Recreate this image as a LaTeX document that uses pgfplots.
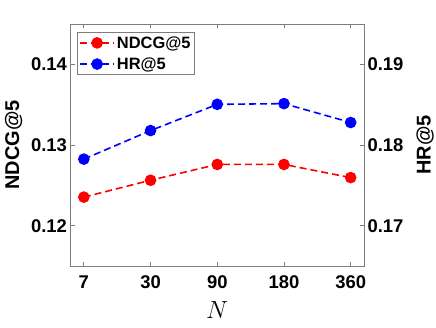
\documentclass[border=0pt]{standalone}
\usepackage{pgfplots}
\pgfplotsset{compat=1.18}
\usepackage{fontspec}
\setmainfont{Liberation Sans}
\definecolor{boxgray}{RGB}{125,125,125}
\begin{document}
\begin{tikzpicture}[x=1bp,y=1bp]
\path[use as bounding box] (0,0) rectangle (436,327);
\pgfplotsset{
 common/.style={
  at={(70.5bp,61bp)}, anchor=south west, scale only axis,
  width=293.5bp, height=242bp,
  xmin=-0.2, xmax=4.2,
  tick align=inside, major tick length=4bp,
  axis line style={draw=boxgray, line width=0.7bp},
  tick style={draw=boxgray, line width=0.7bp},
  ticklabel style={font=\fontsize{18.5}{20}\selectfont\bfseries, text=black},
  label style={font=\fontsize{20}{22}\selectfont\bfseries},
  /pgf/number format/assume math mode=true,
  legend image code/.code={
   \draw[mark repeat=2,mark phase=2,#1] plot coordinates {(0bp,0bp) (17bp,0bp) (34bp,0bp)};
  },
 },
 ser/.style={dash pattern=on 7bp off 4bp, line width=1.6bp, mark=*, mark size=5bp, mark options={solid}},
}
\begin{axis}[common,
  xtick={0,1,2,3,4}, xticklabels={7,30,90,180,360},
  xtick pos=both,
  xticklabel style={yshift=-6bp},
  ymin=0.115, ymax=0.145, ytick={0.12,0.13,0.14}, yticklabels={0.12,0.13,0.14},
  ytick pos=left,
  ylabel={NDCG@5},
  ylabel style={at={(rel axis cs:-0.194,0.5)}, anchor=center},
  xlabel={\fontsize{29}{30}\selectfont$N$},
  xlabel style={at={(rel axis cs:0.5,-0.18)}, anchor=center},
  legend style={at={(0.022,0.967)}, anchor=north west, draw=boxgray, line width=0.7bp,
    font=\fontsize{16.5}{20}\selectfont\bfseries, inner sep=2bp, row sep=4bp,
    cells={anchor=west}},
]
\addplot[red, ser] coordinates {(0,0.12354) (1,0.12563) (2,0.12759) (3,0.12759) (4,0.12596)};
\addlegendentry{NDCG@5}
\addlegendimage{blue, ser}
\addlegendentry{HR@5}
\end{axis}
\begin{axis}[common,
  xtick=\empty,
  ymin=0.165, ymax=0.195, ytick={0.17,0.18,0.19}, yticklabels={0.17,0.18,0.19},
  ytick pos=right, yticklabel pos=right,
  ylabel={HR@5},
  ylabel style={at={(rel axis cs:1.208,0.5)}, anchor=center},
]
\addplot[blue, ser] coordinates {(0,0.17825) (1,0.18179) (2,0.18504) (3,0.18513) (4,0.18279)};
\end{axis}
\end{tikzpicture}
\end{document}
